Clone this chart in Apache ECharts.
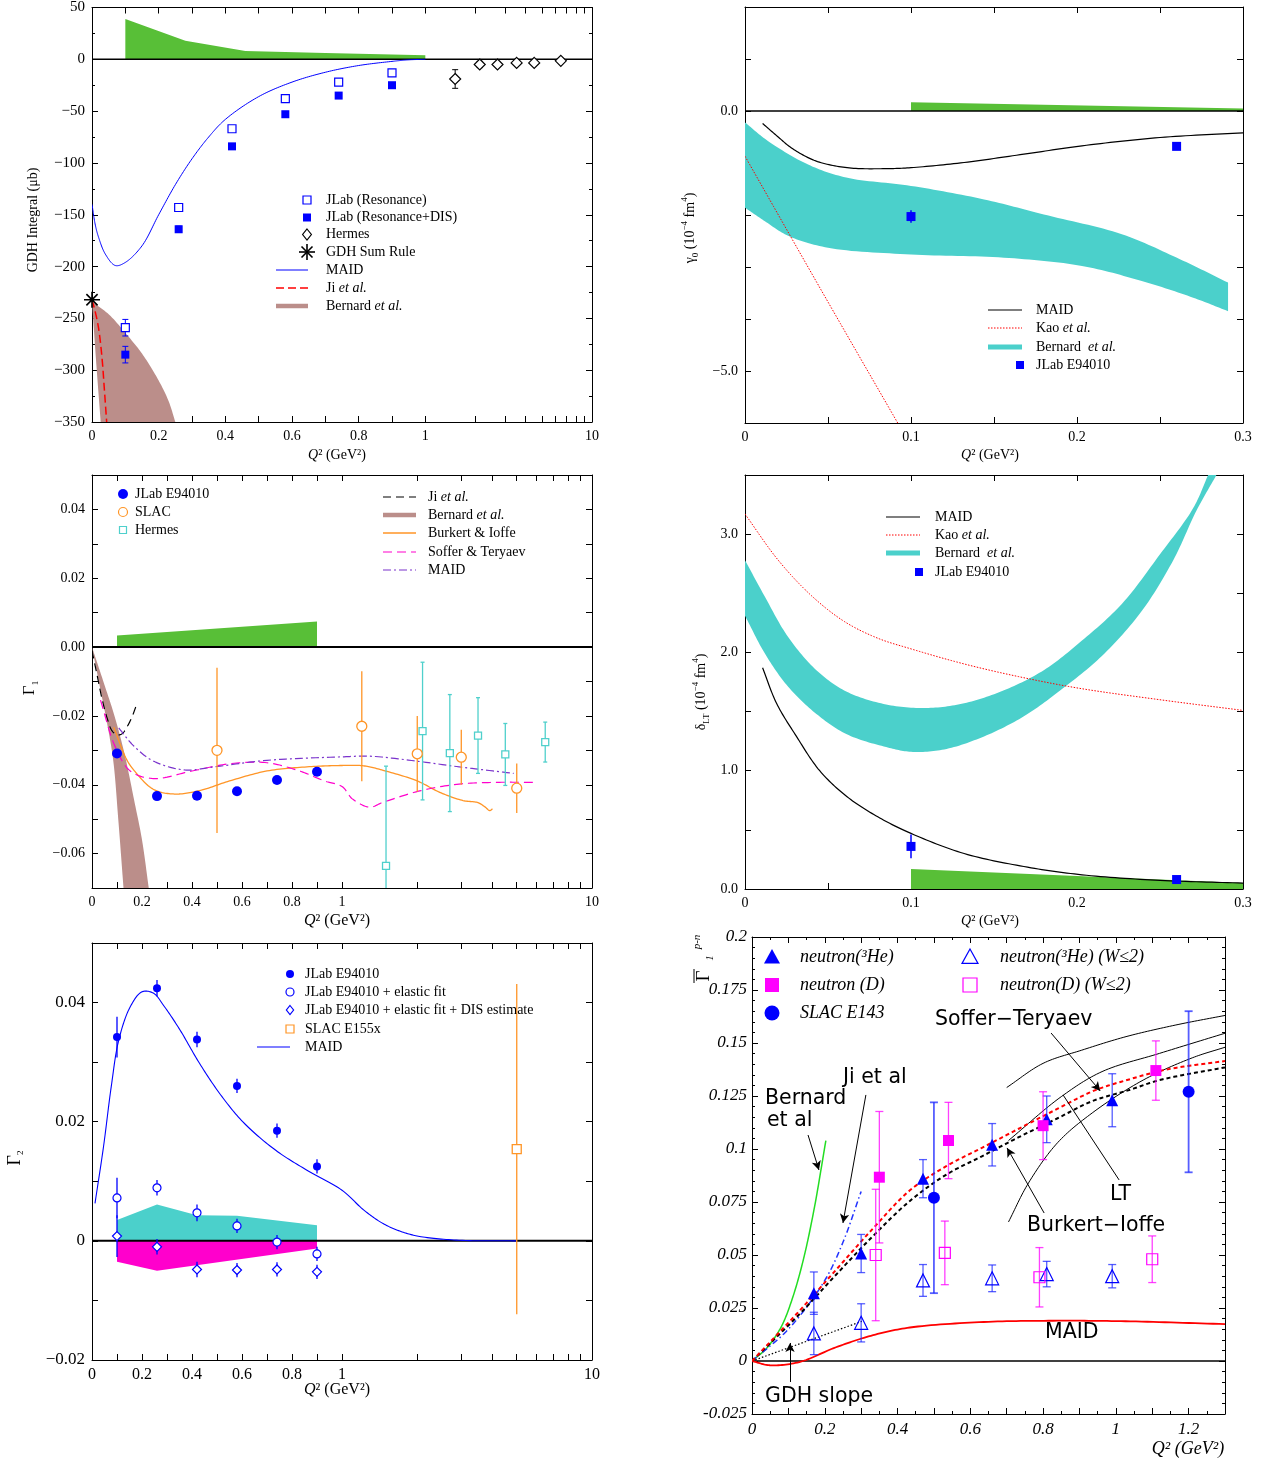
<!DOCTYPE html>
<html><head><meta charset="utf-8">
<script src="https://cdn.jsdelivr.net/npm/echarts@6/dist/echarts.min.js"></script>
<style>html,body{margin:0;padding:0;background:#fff}#c{width:1267px;height:1466px}</style>
</head><body><div id="c"></div>
<script>
// ================= DATA =================
// ---- Panel 1: GDH integral ----
const p1_syst = [[0.1,39],[0.28,18],[0.46,8],[0.7,6],[1.0,4]];
const p1_maid = [[0,-140],[0.01,-160],[0.02,-172],[0.04,-188],[0.07,-199],[0.1,-196],[0.15,-180],[0.2,-150],[0.25,-121],[0.3,-96],[0.35,-75],[0.4,-58],[0.5,-36],[0.6,-22],[0.7,-12.5],[0.8,-6],[0.9,-2],[0.95,-0.5],[1,0]];
const p1_ji = [[0,-232],[0.01,-244],[0.02,-260],[0.03,-288],[0.037,-318],[0.044,-350]];
const p1_bern_hi = [[0,-234],[0.05,-246],[0.1,-264],[0.15,-284],[0.2,-310],[0.23,-330],[0.25,-350]];
const p1_bern_lo = [[0,-234],[0.012,-290],[0.026,-350]];
const p1_q = [0.1,0.26,0.42,0.58,0.74,0.9];
const p1_res = [-259,-143,-67,-38,-22,-13];
const p1_res_err = [8,3,2.5,2,2,2];
const p1_dis = [-285,-164,-84,-53,-35,-25];
const p1_dis_err = [8,3,2.5,2,2,2];
const p1_herm_q = [1.51,2.12,2.71,3.53,4.5,6.5];
const p1_herm = [-19,-5,-5,-3.5,-3.5,-1.5];
const p1_herm_err = [9,3,1.5,1,1,1];
const p1_gdh_q = [0];
const p1_gdh = [-232];

// ---- Panel 2: gamma0 ----
const p2_maid = [[0.0106,-0.24],[0.02,-0.5],[0.028,-0.71],[0.0426,-0.96],[0.0615,-1.09],[0.083,-1.11],[0.1,-1.09],[0.132,-0.99],[0.168,-0.83],[0.203,-0.67],[0.25,-0.51],[0.3,-0.42]];
const p2_kao = [[0,-0.87],[0.046,-3.45],[0.092,-6.0]];
const p2_bern_hi = [[0,-0.22],[0.014,-0.58],[0.038,-1.03],[0.061,-1.28],[0.1,-1.44],[0.144,-1.70],[0.18,-1.99],[0.227,-2.37],[0.262,-2.85],[0.291,-3.30]];
const p2_bern_lo = [[0,-1.86],[0.012,-2.12],[0.026,-2.40],[0.05,-2.63],[0.1,-2.76],[0.156,-2.82],[0.203,-2.98],[0.239,-3.27],[0.27,-3.59],[0.291,-3.85]];
const p2_syst = [[0.1,0.17],[0.3,0.05]];
const p2_q = [0.1,0.26];
const p2_jlab = [-2.03,-0.68];
const p2_jlab_err = [0.12,0.05];

// ---- Panel 3: Gamma1 ----
const p3_syst = [[0.1,0.0034],[0.9,0.0074]];
const p3_q = [0.1,0.26,0.42,0.58,0.74,0.9];
const p3_jlab = [-0.0309,-0.0433,-0.0432,-0.0419,-0.0386,-0.0362];
const p3_slac_q = [0.5,1.2,2.0,3.0,5.0];
const p3_slac = [-0.030,-0.023,-0.031,-0.032,-0.041];
const p3_slac_err = [0.024,0.016,0.011,0.008,0.0072];
const p3_herm_q = [1.5,2.1,2.7,3.5,4.5,6.5];
const p3_herm = [-0.0636,-0.0244,-0.0308,-0.0257,-0.0312,-0.0276];
const p3_herm_err = [0.029,0.020,0.017,0.011,0.009,0.0058];
const p3_ji = [[0,-0.001],[0.02,-0.008],[0.04,-0.015],[0.06,-0.0205],[0.08,-0.0243],[0.1,-0.0255],[0.12,-0.0252],[0.14,-0.0232],[0.16,-0.0203],[0.176,-0.0172]];
const p3_bern_hi = [[0,0],[0.05,-0.011],[0.09,-0.02],[0.13,-0.031],[0.17,-0.045],[0.2,-0.056],[0.227,-0.07]];
const p3_bern_lo = [[0,0],[0.03,-0.011],[0.06,-0.022],[0.085,-0.033],[0.105,-0.05],[0.126,-0.07]];
const p3_burkert = [[0.087,-0.0233],[0.138,-0.0326],[0.168,-0.0358],[0.245,-0.0413],[0.33,-0.0427],[0.43,-0.0417],[0.55,-0.0389],[0.70,-0.036],[0.86,-0.0348],[1.0,-0.0344],[1.22,-0.0345],[1.46,-0.0358],[2.0,-0.0389],[2.46,-0.0422],[3.05,-0.0446],[3.5,-0.0452],[3.74,-0.0465],[3.9,-0.0475],[4.0,-0.047]];
const p3_soffer = [[0.034,-0.0154],[0.092,-0.0288],[0.153,-0.036],[0.245,-0.0382],[0.40,-0.036],[0.55,-0.0339],[0.70,-0.0336],[0.83,-0.036],[0.93,-0.0389],[1.0,-0.0405],[1.1,-0.0441],[1.29,-0.0465],[1.46,-0.0451],[2.07,-0.0417],[2.94,-0.0398],[4.18,-0.0393],[5.8,-0.0393]];
const p3_maid = [[0.107,-0.0235],[0.168,-0.0288],[0.245,-0.0331],[0.37,-0.0357],[0.49,-0.0348],[0.70,-0.0329],[1.0,-0.0319],[1.29,-0.0317],[2.07,-0.0333],[2.94,-0.0348],[4.86,-0.0367]];

// ---- Panel 4: delta_LT ----
const p4_maid = [[0.0106,1.87],[0.019,1.57],[0.031,1.29],[0.045,1.0],[0.0615,0.78],[0.08,0.61],[0.1,0.47],[0.132,0.30],[0.168,0.19],[0.203,0.12],[0.25,0.073],[0.3,0.05]];
const p4_kao = [[0,3.17],[0.02,2.78],[0.04,2.48],[0.06,2.26],[0.08,2.12],[0.1,2.03],[0.13,1.91],[0.16,1.81],[0.2,1.70],[0.25,1.60],[0.3,1.51]];
const p4_bern_hi = [[0,2.78],[0.012,2.47],[0.026,2.13],[0.043,1.85],[0.061,1.67],[0.085,1.56],[0.109,1.53],[0.132,1.57],[0.156,1.68],[0.18,1.85],[0.203,2.10],[0.227,2.41],[0.25,2.83],[0.27,3.22],[0.279,3.5]];
const p4_bern_lo = [[0,2.31],[0.012,1.99],[0.026,1.71],[0.043,1.48],[0.061,1.31],[0.085,1.20],[0.1,1.16],[0.12,1.18],[0.144,1.29],[0.168,1.46],[0.19,1.68],[0.215,1.97],[0.239,2.35],[0.258,2.78],[0.272,3.20],[0.284,3.5]];
const p4_syst = [[0.1,0.17],[0.3,0.05]];
const p4_q = [0.1,0.26];
const p4_jlab = [0.36,0.08];
const p4_jlab_err = [0.1,0.02];

// ---- Panel 5: Gamma2 ----
const p5_q = [0.1,0.26,0.42,0.58,0.74,0.9];
const p5_jlab = [0.0342,0.0424,0.0338,0.026,0.0185,0.0125];
const p5_jlab_err = [0.0034,0.0014,0.0013,0.0012,0.0012,0.0012];
const p5_el = [0.0072,0.0089,0.0047,0.0025,-0.0002,-0.0022];
const p5_el_err = [0.0034,0.0013,0.0014,0.0012,0.0012,0.0012];
const p5_dis = [0.0008,-0.001,-0.0048,-0.0049,-0.0048,-0.0052];
const p5_dis_err = [0.0035,0.0013,0.0013,0.0012,0.0012,0.0012];
const p5_slac_q = [5.0];
const p5_slac = [0.0154];
const p5_slac_err = [0.0277];
const p5_maid = [[0.012,0.0063],[0.046,0.0158],[0.077,0.0259],[0.107,0.0337],[0.153,0.0393],[0.2,0.0418],[0.245,0.0416],[0.29,0.0393],[0.352,0.0354],[0.43,0.0298],[0.52,0.0242],[0.61,0.0197],[0.735,0.0152],[0.858,0.0119],[1.0,0.0085],[1.22,0.0052],[1.46,0.0029],[1.74,0.0015],[2.07,0.0007],[2.94,0.0001],[5.0,0]];
const p5_syst_pos = [[0.1,0.0035],[0.26,0.0061],[0.42,0.0043],[0.58,0.0042],[0.9,0.0026]];
const p5_syst_neg = [[0.1,-0.0035],[0.26,-0.005],[0.9,-0.0013]];

// ---- Panel 6: Gamma1 p-n ----
const p6_he3_q = [0.17,0.30,0.47,0.66,0.81,0.99];
const p6_he3 = [0.032,0.0507,0.086,0.102,0.114,0.123];
const p6_he3_err = [0.01,0.009,0.009,0.01,0.011,0.0125];
const p6_d_q = [0.35,0.54,0.80,1.11];
const p6_d = [0.0867,0.104,0.111,0.137];
const p6_d_err = [0.031,0.018,0.016,0.014];
const p6_slac_q = [0.5,1.2];
const p6_slac = [0.077,0.127];
const p6_slac_err = [0.045,0.038];
const p6_he3w_q = [0.17,0.30,0.47,0.66,0.81,0.99];
const p6_he3w = [0.013,0.018,0.038,0.039,0.041,0.040];
const p6_he3w_err = [0.01,0.009,0.0075,0.0063,0.006,0.0055];
const p6_dw_q = [0.34,0.53,0.79,1.10];
const p6_dw = [0.05,0.051,0.0395,0.048];
const p6_dw_err = [0.031,0.015,0.014,0.011];
const p6_bernard = [[0,0],[0.04,0.006],[0.08,0.016],[0.11,0.029],[0.14,0.047],[0.17,0.071],[0.203,0.104]];
const p6_ji = [[0,0],[0.1,0.015],[0.2,0.038],[0.25,0.056],[0.3,0.08]];
const p6_gdh = [[0,0],[0.302,0.0187]];
const p6_maid = [[0,0],[0.049,-0.002],[0.13,-0.0005],[0.231,0.0065],[0.333,0.0122],[0.434,0.0158],[0.637,0.0184],[0.84,0.019],[1.04,0.0187],[1.3,0.0174]];
const p6_bi_red = [[0,0],[0.13,0.0236],[0.231,0.043],[0.333,0.0626],[0.434,0.0805],[0.535,0.092],[0.637,0.101],[0.738,0.110],[0.84,0.119],[0.94,0.1275],[1.04,0.133],[1.14,0.1375],[1.3,0.1415]];
const p6_bi_blk = [[0,0],[0.13,0.022],[0.231,0.0407],[0.333,0.059],[0.434,0.0755],[0.535,0.088],[0.637,0.097],[0.738,0.106],[0.84,0.1145],[0.934,0.1225],[1.04,0.128],[1.12,0.1325],[1.3,0.1385]];
const p6_lt1 = [[0.70,0.129],[0.80,0.1404],[0.906,0.1466],[1.028,0.153],[1.165,0.1585],[1.3,0.163]];
const p6_lt2 = [[0.705,0.104],[0.85,0.1247],[0.962,0.1365],[1.12,0.1451],[1.3,0.1546]];
const p6_lt3 = [[0.705,0.0656],[0.76,0.084],[0.84,0.103],[0.935,0.117],[1.075,0.1325],[1.21,0.143],[1.3,0.148]];
const p6_arrows = [
  [[0.822,0.1547],[0.957,0.1274],true],
  [[1.009,0.0854],[0.855,0.1255],false],
  [[0.803,0.0698],[0.701,0.1005],true],
  [[0.313,0.1255],[0.250,0.0651],true],
  [[0.154,0.1066],[0.184,0.0901],true],
  [[0.1045,-0.0099],[0.1045,0.0085],true]
];

// ================= HELPERS =================
const SERIF = '"Liberation Serif","DejaVu Serif",serif';
const SANS = '"DejaVu Sans","Liberation Sans",sans-serif';
const MINUS = '\u2212';
const tA = q => q <= 1 ? q : 1 + 0.5 * Math.log10(q);
const tB = q => q <= 1 ? q : 1 + Math.log10(q);
const tI = q => q;
const fm = s => String(s).replace('-', MINUS);

const BLUE='#0000ff', GREEN='#58bf37', CYAN='#4bd0cb', BROWN='#bb8e8a', ORANGE='#ff9526', MAG='#ff00cc', PURP='#7a33cc', HCYAN='#4fd0cc';

function deep(a,b){const o=Object.assign({},a);for(const k in b){const v=b[k];if(v&&typeof v==='object'&&!Array.isArray(v)&&o[k]&&typeof o[k]==='object'&&!Array.isArray(o[k]))o[k]=deep(o[k],v);else o[k]=v;}return o;}

// centripetal Catmull-Rom through pixel points (drawing only)
function spline(P, n){
  if(P.length<3) return P.slice();
  const N=P.length;
  const ext=[[2*P[0][0]-P[1][0],2*P[0][1]-P[1][1]]].concat(P,[[2*P[N-1][0]-P[N-2][0],2*P[N-1][1]-P[N-2][1]]]);
  const d=(a,b)=>Math.max(1e-3,Math.pow(Math.hypot(b[0]-a[0],b[1]-a[1]),0.5));
  const out=[P[0]];
  for(let i=1;i<ext.length-2;i++){
    const p0=ext[i-1],p1=ext[i],p2=ext[i+1],p3=ext[i+2];
    const t0=0,t1=t0+d(p0,p1),t2=t1+d(p1,p2),t3=t2+d(p2,p3);
    for(let k=1;k<=n;k++){
      const t=t1+(t2-t1)*k/n;
      const L=(a,b,ta,tb)=>[(tb-t)/(tb-ta)*a[0]+(t-ta)/(tb-ta)*b[0],(tb-t)/(tb-ta)*a[1]+(t-ta)/(tb-ta)*b[1]];
      const A1=L(p0,p1,t0,t1),A2=L(p1,p2,t1,t2),A3=L(p2,p3,t2,t3);
      const B1=L(A1,A2,t0,t2),B2=L(A2,A3,t1,t3);
      out.push(L(B1,B2,t1,t2));
    }
  }
  return out;
}

const S = [];
function curve(g, pts, tf, color, width, dash, z){
  const data = pts.map(p=>[tf(p[0]),p[1]]);
  S.push({type:'custom', xAxisIndex:2*g, yAxisIndex:2*g, data, clip:true, silent:true, z:z||3, encode:{x:0,y:1},
    renderItem:(params, api)=> params.dataIndex===0 ? {type:'polyline', shape:{points: spline(data.map(p=>api.coord(p)),16)}, style:{stroke:color, fill:'none', lineWidth:width||1, lineDash:dash||null}} : {type:'group', children:[]}});
}
function band(g, hi, lo, tf, color, z, smooth){
  const H = hi.map(p=>[tf(p[0]),p[1]]), Lo = lo.map(p=>[tf(p[0]),p[1]]);
  const data = H.concat(Lo);
  S.push({type:'custom', xAxisIndex:2*g, yAxisIndex:2*g, data, clip:true, silent:true, z:z||1, encode:{x:0,y:1},
    renderItem:(params, api)=>{
      if(params.dataIndex!==0) return {type:'group', children:[]};
      let a=H.map(p=>api.coord(p)), b=Lo.map(p=>api.coord(p));
      if(smooth){a=spline(a,16); b=spline(b,16);}
      return {type:'polygon', shape:{points: a.concat(b.reverse())}, style:{fill:color, stroke:'none'}};
    }});
}
function errbar(g, qs, vs, es, tf, color, cap, width, z){
  const data = qs.map((q,i)=>[tf(q), vs[i], es[i]]);
  S.push({type:'custom', xAxisIndex:2*g, yAxisIndex:2*g, data, clip:true, silent:true, z:z||4, encode:{x:0,y:1},
    renderItem:(params, api)=>{
      const x=api.value(0), y=api.value(1), e=api.value(2);
      const a=api.coord([x,y+e]), b=api.coord([x,y-e]);
      const st={stroke:color, lineWidth:width||1};
      const ch=[{type:'line', shape:{x1:a[0],y1:a[1],x2:b[0],y2:b[1]}, style:st}];
      if(cap){
        ch.push({type:'line', shape:{x1:a[0]-cap,y1:a[1],x2:a[0]+cap,y2:a[1]}, style:st});
        ch.push({type:'line', shape:{x1:b[0]-cap,y1:b[1],x2:b[0]+cap,y2:b[1]}, style:st});
      }
      return {type:'group', children:ch};
    }});
}
function marks(g, qs, vs, tf, symbol, size, color, fill, bw, z, clip){
  S.push({type:'scatter', xAxisIndex:2*g, yAxisIndex:2*g, data: qs.map((q,i)=>[tf(q), vs[i]]), symbol, symbolSize:size,
    itemStyle:{color: fill, borderColor: color, borderWidth: bw||0, opacity:1}, silent:true, z:z||5, clip: clip===undefined?true:clip});
}
function zero(g, x0, x1, w){
  S.push({type:'line', xAxisIndex:2*g, yAxisIndex:2*g, data:[[x0,0],[x1,0]], showSymbol:false, symbol:'none', silent:true, z:2, lineStyle:{color:'#000', width:w||1}});
}

// ================= GRIDS / AXES =================
const GRIDS = [
  {left:92, top:7, width:500, height:415},
  {left:745, top:7, width:498, height:416},
  {left:92, top:475, width:500, height:413},
  {left:745, top:475, width:498, height:414},
  {left:92, top:943, width:500, height:417},
  {left:752, top:937, width:473, height:477}
];
const LIN_T = Array.from({length:11},(_,i)=>i/10);
const LOG_T = [2,3,4,5,6,7,8,9,10];
const TICKS_A = LIN_T.concat(LOG_T.map(tA));
const TICKS_B = LIN_T.concat(LOG_T.map(tB));
const LAB_LIN = [0,0.2,0.4,0.6,0.8,1];
const fq = v => v > 1.01 ? '10' : String(Math.round(v*10)/10);

function axisBase(g,pos,fs){
  return {type:'value', gridIndex:g, position:pos, silent:true,
    axisLine:{show:true,onZero:false,lineStyle:{color:'#000',width:1}},
    axisTick:{show:true,inside:true,length:6,lineStyle:{color:'#000',width:1}},
    minorTick:{show:false},
    axisLabel:{show:(pos==='bottom'||pos==='left'), color:'#000', fontFamily:SERIF, fontSize:fs||14, margin:7},
    splitLine:{show:false}, minorSplitLine:{show:false}};
}
const XC = [
  {min:0,max:1.5, axisTick:{customValues:TICKS_A}, axisLabel:{customValues:LAB_LIN.concat([1.5]), formatter:fq}},
  {min:0,max:0.3,interval:0.05, axisLabel:{formatter:v=>{const k=Math.round(v*100);return k%10===0?String(k/100):'';}}},
  {min:0,max:2, axisTick:{customValues:TICKS_B}, axisLabel:{customValues:LAB_LIN.concat([2]), formatter:fq}},
  {min:0,max:0.3,interval:0.05, axisLabel:{formatter:v=>{const k=Math.round(v*100);return k%10===0?String(k/100):'';}}},
  {min:0,max:2, axisTick:{customValues:TICKS_B}, axisLabel:{customValues:LAB_LIN.concat([2]), formatter:fq, fontSize:16}},
  {min:0,max:1.3,interval:0.1, minorTick:{show:true,splitNumber:2,length:3,lineStyle:{color:'#000'}}, axisLabel:{fontStyle:'italic',fontSize:17,formatter:v=>{const k=Math.round(v*10);return k%2===0?String(k/10):'';}}}
];
const YC = [
  {min:-350,max:50,interval:50, minorTick:{show:true,splitNumber:2,length:3,lineStyle:{color:'#000'}}, axisLabel:{fontSize:15, formatter:v=>fm(v)}},
  {min:-6,max:2,interval:1, axisLabel:{formatter:v=>v===0?'0.0':(v===-5?MINUS+'5.0':'')}},
  {min:-0.07,max:0.05,interval:0.01, axisLabel:{formatter:v=>{const k=Math.round(v*100);return k%2===0?fm((k/100).toFixed(2)):'';}}},
  {min:0,max:3.5,interval:0.5, axisLabel:{formatter:v=>Math.abs(v-Math.round(v))<1e-6?v.toFixed(1):''}},
  {min:-0.02,max:0.05,interval:0.01, axisLabel:{fontSize:17, formatter:v=>{const k=Math.round(v*100);return k%2===0?(k===0?'0':fm((k/100).toFixed(2))):'';}}},
  {min:-0.025,max:0.2,interval:0.025, minorTick:{show:true,splitNumber:5,length:3,lineStyle:{color:'#000'}}, axisLabel:{fontStyle:'italic',fontSize:17,margin:5,formatter:v=>String(Math.round(v*1000)/1000)}}
];
const xAxes=[], yAxes=[];
for(let g=0; g<6; g++){
  xAxes.push(deep(axisBase(g,'bottom'),XC[g]));
  xAxes.push(deep(deep(axisBase(g,'top'),XC[g]),{axisLabel:{show:false}}));
  yAxes.push(deep(axisBase(g,'left'),YC[g]));
  yAxes.push(deep(deep(axisBase(g,'right'),YC[g]),{axisLabel:{show:false}}));
}

// ================= SERIES =================
// Panel 1
band(0, p1_syst, [[0.1,0],[1.0,0]], tA, GREEN, 1, false);
zero(0, 0, 1.5, 1.5);
band(0, p1_bern_hi, p1_bern_lo, tA, BROWN, 1, true);
curve(0, p1_maid, tA, BLUE, 1);
curve(0, p1_ji, tA, '#ff0000', 1.5, [8,4]);
errbar(0, p1_q, p1_res, p1_res_err, tA, BLUE, 3, 1);
errbar(0, p1_q, p1_dis, p1_dis_err, tA, BLUE, 3, 1);
errbar(0, p1_herm_q, p1_herm, p1_herm_err, tA, '#000', 3, 1);
marks(0, p1_q, p1_res, tA, 'rect', 8, BLUE, '#fff', 1.2);
marks(0, p1_q, p1_dis, tA, 'rect', 8, BLUE, BLUE, 0);
marks(0, p1_herm_q, p1_herm, tA, 'diamond', 11, '#000', '#fff', 1.2);
marks(0, p1_gdh_q, p1_gdh, tA, 'path://M10,0L10,20M0,10L20,10M3,3L17,17M3,17L17,3', 16, '#000', 'rgba(0,0,0,0)', 1.6, 6, false);

// Panel 2
zero(1, 0, 0.3, 1.6);
band(1, p2_syst, [[0.1,0],[0.3,0]], tI, GREEN, 2, false);
band(1, p2_bern_hi, p2_bern_lo, tI, CYAN, 1, true);
curve(1, p2_maid, tI, '#000', 1.2);
curve(1, p2_kao, tI, '#ff0000', 1, [1.5,1.5]);
errbar(1, p2_q, p2_jlab, p2_jlab_err, tI, BLUE, 0, 1.5);
marks(1, p2_q, p2_jlab, tI, 'rect', 9, BLUE, BLUE, 0);

// Panel 3
band(2, p3_syst, [[0.1,0],[0.9,0]], tB, GREEN, 1, false);
zero(2, 0, 2, 2);
band(2, p3_bern_hi, p3_bern_lo, tB, BROWN, 1, true);
curve(2, p3_ji, tB, '#000', 1.2, [8,5]);
curve(2, p3_burkert, tB, ORANGE, 1.3);
curve(2, p3_soffer, tB, MAG, 1.2, [9,5]);
curve(2, p3_maid, tB, PURP, 1.2, [8,3,2,3]);
errbar(2, p3_slac_q, p3_slac, p3_slac_err, tB, ORANGE, 0, 1.3);
errbar(2, p3_herm_q, p3_herm, p3_herm_err, tB, HCYAN, 2, 1.3);
marks(2, p3_q, p3_jlab, tB, 'circle', 10, BLUE, BLUE, 0);
marks(2, p3_slac_q, p3_slac, tB, 'circle', 10, ORANGE, '#fff', 1.3);
marks(2, p3_herm_q, p3_herm, tB, 'rect', 7, HCYAN, '#fff', 1.3);

// Panel 4
band(3, p4_syst, [[0.1,0],[0.3,0]], tI, GREEN, 1, false);
band(3, p4_bern_hi, p4_bern_lo, tI, CYAN, 1, true);
curve(3, p4_maid, tI, '#000', 1.2);
curve(3, p4_kao, tI, '#ff0000', 1, [1.5,1.5]);
errbar(3, p4_q, p4_jlab, p4_jlab_err, tI, BLUE, 0, 1.5);
marks(3, p4_q, p4_jlab, tI, 'rect', 9, BLUE, BLUE, 0);

// Panel 5
band(4, p5_syst_pos, [[0.1,0],[0.9,0]], tB, CYAN, 1, false);
band(4, p5_syst_neg, [[0.1,0],[0.9,0]], tB, MAG, 1, false);
zero(4, 0, 2, 2);
curve(4, p5_maid, tB, BLUE, 1.1);
errbar(4, p5_q, p5_jlab, p5_jlab_err, tB, BLUE, 0, 1.3);
errbar(4, p5_q, p5_el, p5_el_err, tB, BLUE, 0, 1.3);
errbar(4, p5_q, p5_dis, p5_dis_err, tB, BLUE, 0, 1.3);
errbar(4, p5_slac_q, p5_slac, p5_slac_err, tB, ORANGE, 0, 1.3);
marks(4, p5_q, p5_jlab, tB, 'circle', 8, BLUE, BLUE, 0);
marks(4, p5_q, p5_el, tB, 'circle', 8, BLUE, '#fff', 1.2);
marks(4, p5_q, p5_dis, tB, 'diamond', 9, BLUE, '#fff', 1.2);
marks(4, p5_slac_q, p5_slac, tB, 'rect', 9, ORANGE, '#fff', 1.3);

// Panel 6
zero(5, 0, 1.3, 1.3);
curve(5, p6_lt1, tI, '#000', 1);
curve(5, p6_lt2, tI, '#000', 1);
curve(5, p6_lt3, tI, '#000', 1);
curve(5, p6_bernard, tI, '#22dd22', 1.5);
curve(5, p6_ji, tI, '#2233ff', 1.5, [6,3,1.5,3]);
curve(5, p6_gdh, tI, '#000', 1.2, [1.5,2]);
curve(5, p6_maid, tI, '#ff0000', 1.8);
curve(5, p6_bi_blk, tI, '#000', 2, [4,3]);
curve(5, p6_bi_red, tI, '#ff0000', 2, [4,3]);
errbar(5, p6_he3w_q, p6_he3w, p6_he3w_err, tI, 'rgba(30,40,255,0.75)', 4, 1.3);
errbar(5, p6_dw_q, p6_dw, p6_dw_err, tI, 'rgba(255,0,255,0.75)', 4, 1.3);
errbar(5, p6_he3_q, p6_he3, p6_he3_err, tI, 'rgba(30,40,255,0.75)', 4, 1.3);
errbar(5, p6_d_q, p6_d, p6_d_err, tI, 'rgba(255,0,255,0.75)', 4, 1.3);
errbar(5, p6_slac_q, p6_slac, p6_slac_err, tI, 'rgba(30,40,255,0.75)', 4, 1.8);
marks(5, p6_he3w_q, p6_he3w, tI, 'triangle', 13, BLUE, 'rgba(255,255,255,0)', 1.2);
marks(5, p6_dw_q, p6_dw, tI, 'rect', 11, '#ff00ff', 'rgba(255,255,255,0)', 1.2);
marks(5, p6_he3_q, p6_he3, tI, 'triangle', 12, BLUE, BLUE, 0);
marks(5, p6_d_q, p6_d, tI, 'rect', 11, '#ff00ff', '#ff00ff', 0);
marks(5, p6_slac_q, p6_slac, tI, 'circle', 12, BLUE, BLUE, 0);
S.push({type:'line', xAxisIndex:10, yAxisIndex:10, data:[], silent:true,
  markLine:{silent:true, animation:false, symbolSize:[7,9], label:{show:false}, lineStyle:{color:'#000', width:1, type:'solid'},
    data: p6_arrows.map(a=>[{coord:a[0], symbol:'none'},{coord:a[1], symbol:a[2]?'arrow':'none'}])}});

// ================= GRAPHIC (legends, titles) =================
const G = [];
const RICH = {
  i:{fontStyle:'italic', fontFamily:SERIF, fontSize:14},
  s:{fontSize:9, fontFamily:SERIF, verticalAlign:'bottom', lineHeight:9},
  p:{fontSize:9, fontFamily:SERIF, verticalAlign:'top', lineHeight:9}
};
function gtext(x,y,text,opt){G.push({type:'text', x, y, silent:true, z:100, style:Object.assign({text, fontFamily:SERIF, fontSize:14, fill:'#000', verticalAlign:'middle', align:'left', lineHeight:20, rich:RICH}, opt||{})});}
function grtext(x,y,text,opt){G.push({type:'text', x, y, rotation:Math.PI/2, silent:true, z:100, style:Object.assign({text, fontFamily:SERIF, fontSize:14, fill:'#000', verticalAlign:'middle', align:'center', lineHeight:20, rich:RICH}, opt||{})});}
function gline(x1,y1,x2,y2,stroke,w,dash){G.push({type:'line', silent:true, z:100, shape:{x1,y1,x2,y2}, style:{stroke, lineWidth:w||1, lineDash:dash||null}});}
function grect(cx,cy,s,stroke,fill,w){G.push({type:'rect', silent:true, z:100, shape:{x:cx-s/2,y:cy-s/2,width:s,height:s}, style:{fill, stroke, lineWidth:w||0}});}
function gcirc(cx,cy,r,stroke,fill,w){G.push({type:'circle', silent:true, z:100, shape:{cx,cy,r}, style:{fill, stroke, lineWidth:w||0}});}
function gpoly(pts,stroke,fill,w){G.push({type:'polygon', silent:true, z:100, shape:{points:pts}, style:{fill, stroke, lineWidth:w||0}});}
function gdiam(cx,cy,r,stroke,fill,w){gpoly([[cx,cy-r],[cx+r*0.8,cy],[cx,cy+r],[cx-r*0.8,cy]],stroke,fill,w);}
function gtri(cx,cy,r,stroke,fill,w){gpoly([[cx,cy-r],[cx+r,cy+r*0.8],[cx-r,cy+r*0.8]],stroke,fill,w);}

// Panel 1 legend
grect(307,200,8,BLUE,'#fff',1.2); gtext(326,200,'JLab (Resonance)');
grect(307,217.5,8,BLUE,BLUE,0); gtext(326,217.5,'JLab (Resonance+DIS)');
gdiam(307,234.5,5.5,'#000','#fff',1.2); gtext(326,234.5,'Hermes');
[[0,-8,0,8],[-8,0,8,0],[-5.5,-5.5,5.5,5.5],[-5.5,5.5,5.5,-5.5]].forEach(d=>gline(307+d[0],252+d[1],307+d[2],252+d[3],'#000',1.6));
gtext(326,252,'GDH Sum Rule');
gline(276,270,308,270,BLUE,1); gtext(326,270,'MAID');
gline(276,288,308,288,'#ff0000',1.5,[8,4]); gtext(326,288,'Ji {i|et al.}');
gline(276,306,308,306,BROWN,4.5); gtext(326,306,'Bernard {i|et al.}');
grtext(33,220,'GDH Integral (\u03bcb)');
gtext(337,455,'{i|Q}\u00b2 (GeV\u00b2)',{align:'center'});

// Panel 2 legend
gline(988,310,1022,310,'#000',1.2); gtext(1036,310,'MAID');
gline(988,328,1022,328,'#ff0000',1,[1.5,1.5]); gtext(1036,328,'Kao {i|et al.}');
gline(988,347,1022,347,CYAN,5); gtext(1036,347,'Bernard  {i|et al.}');
grect(1020,365,8,BLUE,BLUE,0); gtext(1036,365,'JLab E94010');
grtext(690,228,'\u03b3{s|0} (10{p|\u22124} fm{p|4})');
gtext(990,455,'{i|Q}\u00b2 (GeV\u00b2)',{align:'center'});

// Panel 3 legend
gcirc(123,494,5,BLUE,BLUE,0); gtext(135,494,'JLab E94010');
gcirc(123,512,4.5,ORANGE,'#fff',1.2); gtext(135,512,'SLAC');
grect(123,530,7,HCYAN,'#fff',1.2); gtext(135,530,'Hermes');
gline(383,497,416,497,'#000',1.2,[8,5]); gtext(428,497,'Ji {i|et al.}');
gline(383,515,416,515,BROWN,4.5); gtext(428,515,'Bernard {i|et al.}');
gline(383,533,416,533,ORANGE,1.3); gtext(428,533,'Burkert & Ioffe');
gline(383,552,416,552,MAG,1.2,[9,5]); gtext(428,552,'Soffer & Teryaev');
gline(383,570,416,570,PURP,1.2,[8,3,2,3]); gtext(428,570,'MAID');
grtext(30,688,'\u0393{s|1}',{fontSize:17});
gtext(337,921,'{i|Q}\u00b2 (GeV\u00b2)',{align:'center', fontSize:16, rich:Object.assign({},RICH,{i:{fontStyle:'italic',fontFamily:SERIF,fontSize:16}})});

// Panel 4 legend
gline(886,517,920,517,'#000',1.2); gtext(935,517,'MAID');
gline(886,535,920,535,'#ff0000',1,[1.5,1.5]); gtext(935,535,'Kao {i|et al.}');
gline(886,553,920,553,CYAN,5); gtext(935,553,'Bernard  {i|et al.}');
grect(919,572,8,BLUE,BLUE,0); gtext(935,572,'JLab E94010');
grtext(701,692,'\u03b4{s|LT} (10{p|\u22124} fm{p|4})');
gtext(990,921,'{i|Q}\u00b2 (GeV\u00b2)',{align:'center'});

// Panel 5 legend
gcirc(290,974,4,BLUE,BLUE,0); gtext(305,974,'JLab E94010');
gcirc(290,992,4,BLUE,'#fff',1.2); gtext(305,992,'JLab E94010 + elastic fit');
gdiam(290,1010,4.5,BLUE,'#fff',1.2); gtext(305,1010,'JLab E94010 + elastic fit + DIS estimate');
grect(290,1029,8,ORANGE,'#fff',1.2); gtext(305,1029,'SLAC E155x');
gline(257,1047,290,1047,BLUE,1.1); gtext(305,1047,'MAID');
grtext(15,1158,'\u0393{s|2}',{fontSize:18});
gtext(337,1390,'{i|Q}\u00b2 (GeV\u00b2)',{align:'center', fontSize:16, rich:Object.assign({},RICH,{i:{fontStyle:'italic',fontFamily:SERIF,fontSize:16}})});

// Panel 6 legend
const I18 = {fontStyle:'italic', fontSize:18};
gtri(772,957,8,BLUE,BLUE,0); gtext(800,957,'neutron(\u00b3He)',I18);
grect(772,985,14,'#ff00ff','#ff00ff',0); gtext(800,985,'neutron (D)',I18);
gcirc(772,1013,7.5,BLUE,BLUE,0); gtext(800,1013,'SLAC E143',I18);
gtri(970,957,8,BLUE,'#fff',1.2); gtext(1000,957,'neutron(\u00b3He) (W\u22642)',I18);
grect(970,985,14,'#ff00ff','#fff',1.2); gtext(1000,985,'neutron(D) (W\u22642)',I18);
const A20 = {fontFamily:SANS, fontSize:20.5};
gtext(935,1020,'Soffer\u2212Teryaev',A20);
gtext(843,1078,'Ji et al',A20);
gtext(765,1099,'Bernard',A20);
gtext(767,1121,'et al',A20);
gtext(1110,1195,'LT',A20);
gtext(1027,1226,'Burkert\u2212Ioffe',A20);
gtext(1045,1333,'MAID',A20);
gtext(765,1397,'GDH slope',A20);
// y title of panel 6: Gamma-bar, subscript 1, superscript p-n (rotated)
grtext(704,976,'\u0393',{fontSize:19});
gline(694,969,694,983,'#000',1);
grtext(710,958,'1',{fontSize:11, fontStyle:'italic'});
grtext(697,942,'p-n',{fontSize:11, fontStyle:'italic'});
gtext(1188,1449,'{i|Q}\u00b2 ({i|GeV}\u00b2)',{align:'center', fontSize:18, fontStyle:'italic', rich:{i:{fontStyle:'italic',fontFamily:SERIF,fontSize:18}}});

// ================= CHART =================
const chart = echarts.init(document.getElementById('c'), null, {renderer:'canvas'});
chart.setOption({
  animation:false,
  backgroundColor:'#fff',
  grid: GRIDS.map(g=>Object.assign({show:false, containLabel:false}, g)),
  xAxis: xAxes,
  yAxis: yAxes,
  series: S,
  graphic: {elements: G}
});
</script></body></html>
